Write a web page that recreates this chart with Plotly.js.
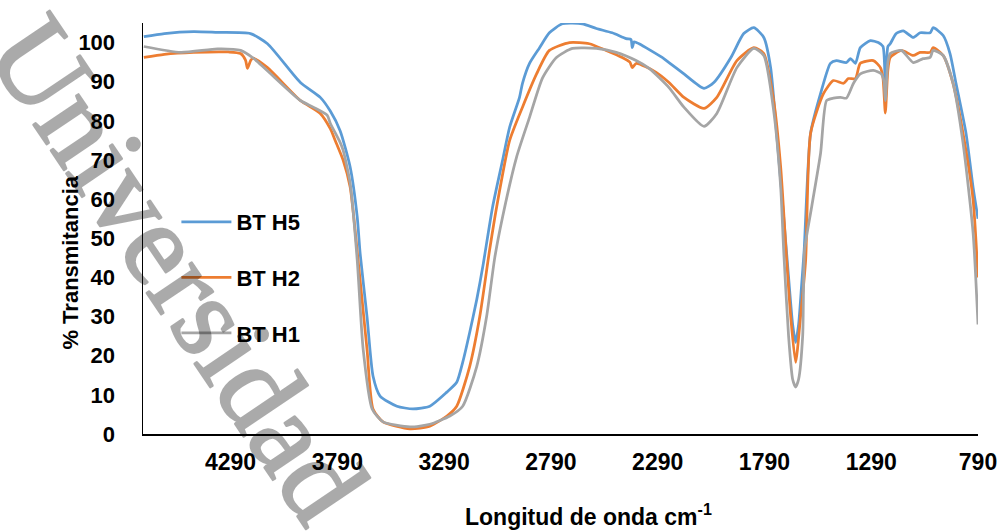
<!DOCTYPE html>
<html>
<head>
<meta charset="utf-8">
<script src="https://cdn.plot.ly/plotly-3.0.1.min.js"></script>
<style>
  html, body { margin: 0; padding: 0; background: #fff; }
  #chart { width: 1005px; height: 531px; }
  /* heavier strokes for the watermark letters */
  #chart .infolayer g.annotation[data-index="2"] text.annotation-text {
    stroke: #000;
    stroke-width: 2.5px;
    stroke-linejoin: round;
  }
</style>
</head>
<body>
<div id="chart"></div>
<script>
// FTIR spectra: wavenumber (cm-1) vs % transmittance for three samples
const wnH5 = [4696,4600,4463,4351,4197,4117,3963,3870,3823,3777,3730,3697,3683,3651,3623,3590,3511,3436,3357,3277,3231,3203,3170,3137,3109,3063,3016,2983,2937,2923,2890,2843,2797,2736,2643,2577,2503,2437,2415,2409,2400,2377,2269,2237,2167,2073,2027,1947,1887,1840,1793,1761,1733,1700,1677,1658,1644,1630,1616,1604,1574,1527,1481,1453,1406,1387,1364,1341,1294,1257,1235,1224,1212,1201,1173,1140,1093,1061,1014,1000,953,921,893,846,813,790];
const tH5  = [101.5,102.3,102.8,102.6,102.3,99.7,89.8,86,82.5,77.5,68.2,55.5,46,30,14.8,9.7,7.1,6.4,7.1,10.7,13.2,18.3,26,34.4,42.7,58,70,78.4,86,89.6,94.7,98.7,102.5,104.8,104.8,103.6,102.5,101,100.8,98.7,100.2,99.7,96.2,94.9,92,88.3,89.8,96.2,102.3,103.8,101.3,93.6,76.8,55.5,40,28,23.4,28,38,47,76.8,87,94.7,95.4,94.9,95.9,94.7,98.7,100.5,100,99,89,99,99.7,102.3,103,101.3,102.5,102.5,103.8,101.8,97.2,89.6,76.8,63,55];

const wnH2 = [4696,4600,4463,4300,4243,4220,4211,4195,4183,4117,3963,3870,3823,3800,3763,3730,3693,3651,3623,3576,3450,3357,3277,3231,3170,3123,3077,3044,2983,2923,2857,2797,2703,2610,2531,2456,2420,2409,2390,2297,2237,2167,2073,2013,1919,1840,1793,1747,1714,1686,1667,1644,1621,1597,1574,1513,1467,1420,1397,1364,1341,1280,1247,1235,1224,1212,1201,1149,1093,1061,1014,1000,953,907,860,813,790];
const tH2  = [96.2,97,97.5,97.6,97.2,95.5,93.4,95.5,96,93.6,85.2,81.9,78,75,70,63.1,44.5,21.6,6.4,3.1,1.3,2,4.6,7.1,17.3,30,47,58,75,83.5,92,98,100,99.7,98,96.2,95,93.6,94.7,92.4,89.8,86,83.2,86,95.4,98.7,97.2,85.2,68.2,44.5,30,18.3,30,44.5,76.8,87,90.3,89.6,90.8,90.8,94.7,95.4,93.6,91,82,93,96.2,98,96.7,97.5,97.5,98.7,96.7,89.6,76.8,59.8,40];

const wnH1 = [4696,4523,4351,4243,4183,3963,3903,3837,3823,3777,3763,3730,3697,3669,3627,3576,3450,3357,3263,3203,3137,3091,3053,3016,2951,2890,2829,2764,2689,2577,2484,2391,2330,2237,2167,2073,2013,1919,1840,1793,1747,1714,1700,1677,1658,1644,1630,1611,1602,1569,1527,1499,1467,1434,1406,1373,1341,1280,1243,1230,1224,1212,1201,1149,1093,1047,1014,1000,953,907,860,813,790];
const tH1  = [99,97.5,98.4,98,96,85.2,83.5,81.4,79.4,74.5,72.5,64.1,44.5,21.6,6.4,3.1,1.8,2.5,4.6,7.1,17.3,30,45,55.5,70.7,80.9,91,96.2,98.5,98.5,97.5,95.4,93.4,88.5,83.5,78.6,81.9,93.6,98.5,96.7,82.7,63.1,47,25,14,12,14,25,47,58,71.8,85.2,85.8,86,85.8,89.6,92,92.9,92,90,85.2,95,97.2,98,94.9,95.9,96.2,98,96.7,89.6,74.3,51.4,28];

const seriesNames = ['BT H5', 'BT H2', 'BT H1'];
const seriesColors = ['#5B9BD5', '#ED7D31', '#A5A5A5'];
const xTickVals = [4290, 3790, 3290, 2790, 2290, 1790, 1290, 790];
const yTickVals = [0, 10, 20, 30, 40, 50, 60, 70, 80, 90, 100];

const FONT = 'Liberation Sans, Arial, sans-serif';
const SERIF = 'Liberation Serif, Times New Roman, serif';
const xs = [wnH5, wnH2, wnH1];
const ys = [tH5, tH2, tH1];

const traces = seriesNames.map((name, i) => ({
  type: 'scatter',
  mode: 'lines',
  name: name,
  legendgroup: 'g' + i,
  x: xs[i],
  y: ys[i],
  line: { color: seriesColors[i], width: 2.75, shape: 'spline', smoothing: 0.6 },
  hoverinfo: 'skip'
}));

const layout = {
  width: 1005,
  height: 531,
  margin: { l: 143, r: 27, t: 23, b: 97 },
  paper_bgcolor: '#ffffff',
  plot_bgcolor: '#ffffff',
  font: { family: FONT, color: '#000', size: 23, weight: 'bold' },
  showlegend: true,
  legend: {
    x: 0.04, xanchor: 'left',
    y: 0.567, yanchor: 'top',
    bgcolor: 'rgba(0,0,0,0)',
    font: { family: FONT, size: 22, weight: 'bold', color: '#000' },
    traceorder: 'grouped',
    tracegroupgap: 24,
    itemwidth: 50
  },
  xaxis: {
    range: [4700, 790],
    tickmode: 'array',
    tickvals: xTickVals,
    ticktext: xTickVals.map(String),
    ticks: '',
    showgrid: false,
    zeroline: false,
    showline: true,
    linecolor: '#000',
    linewidth: 1.5,
    tickfont: { family: FONT, size: 23, weight: 'bold', color: '#000' },
    ticklabelstandoff: 7
  },
  yaxis: {
    range: [0, 105],
    tickmode: 'array',
    tickvals: yTickVals,
    ticktext: yTickVals.map(String),
    ticks: '',
    showgrid: false,
    zeroline: false,
    showline: true,
    linecolor: '#000',
    linewidth: 1.5,
    tickfont: { family: FONT, size: 22, weight: 'bold', color: '#000' },
    ticklabelstandoff: 22
  },
  annotations: [
    {
      text: 'Longitud de onda cm<sup>-1</sup>',
      xref: 'paper', yref: 'paper',
      x: 0.533, y: -0.197,
      xanchor: 'center', yanchor: 'middle',
      showarrow: false,
      font: { family: FONT, size: 23, weight: 'bold', color: '#000' }
    },
    {
      text: '% Transmitancia',
      xref: 'paper', yref: 'paper',
      x: -0.087, y: 0.418,
      xanchor: 'center', yanchor: 'middle',
      textangle: -90,
      showarrow: false,
      font: { family: FONT, size: 22, weight: 'bold', color: '#000' }
    },
    {
      // diagonal watermark across the left part of the chart
      text: 'Universidad',
      xref: 'paper', yref: 'paper',
      x: 0.043, y: 0.401,
      xanchor: 'center', yanchor: 'middle',
      textangle: 56,
      showarrow: false,
      opacity: 0.33,
      font: { family: SERIF, size: 118, weight: 'normal', color: '#000' }
    }
  ]
};

Plotly.newPlot('chart', traces, layout, { staticPlot: true, displayModeBar: false });
</script>
</body>
</html>
